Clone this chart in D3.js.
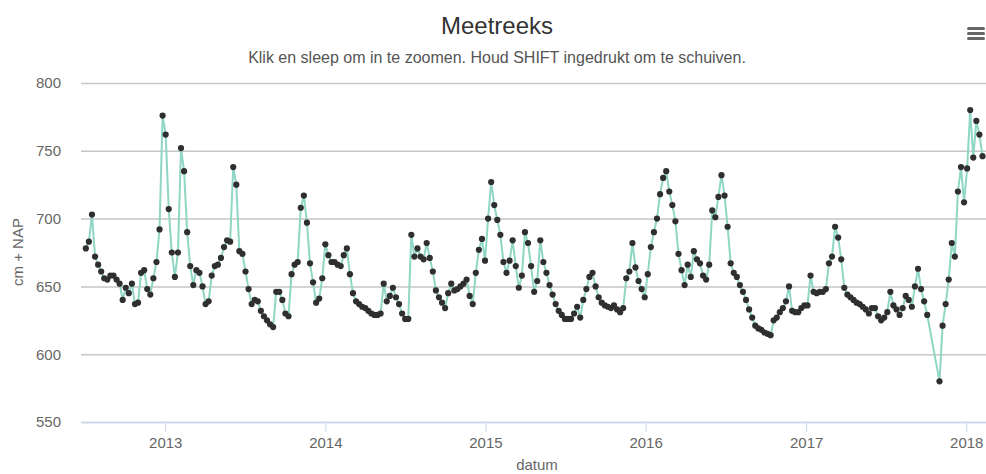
<!DOCTYPE html>
<html>
<head>
<meta charset="utf-8">
<script src="https://cdn.jsdelivr.net/npm/d3@7"></script>
<style>
  body { margin: 0; background: #fff; }
  text { font-family: "Liberation Sans", Arial, sans-serif; }
</style>
</head>
<body>
<script>
'use strict';

// weekly readings (cm + NAP), first one on 2012-07-04; null = no measurement
var startDate = new Date(2012, 6, 4);
var levels = [
  678,683,703,672,666,661,656,655,658,658,
  655,652,640,649,645,652,637,638,660,662,
  648,644,656,668,692,776,762,707,675,657,
  675,752,735,690,665,651,662,660,650,637,
  639,658,665,666,671,679,684,683,738,725,
  676,674,661,648,637,640,639,632,628,625,
  622,620,646,646,640,630,628,659,666,668,
  708,717,697,667,653,638,641,656,681,673,
  668,668,666,665,673,678,659,645,639,637,
  635,634,632,630,629,629,630,652,639,643,
  649,642,637,630,626,626,688,672,678,672,
  670,682,671,661,647,642,638,634,645,652,
  647,648,650,652,655,643,637,660,677,685,
  669,700,727,710,699,688,668,660,669,684,
  665,649,658,690,682,665,646,654,684,668,
  660,651,644,637,632,629,626,626,626,630,
  635,627,640,648,657,660,650,642,638,636,
  635,634,636,633,631,634,656,661,682,664,
  654,648,642,659,679,690,700,718,730,735,
  720,710,698,674,662,651,666,657,676,670,
  667,658,655,666,706,701,716,732,717,694,
  667,660,657,651,646,640,633,627,621,619,
  618,616,615,614,625,627,631,634,639,650,
  632,631,631,634,636,636,658,646,645,646,
  646,648,667,672,694,686,670,649,644,642,
  640,638,637,635,633,630,634,634,628,625,
  627,631,646,636,633,629,634,643,640,635,
  650,663,648,639,629,null,null,null,580,621,
  637,655,682,672,720,738,712,737,780,745,
  772,762,746
];
var yTicks = [550, 600, 650, 700, 750, 800];
var xTickYears = [2013, 2014, 2015, 2016, 2017, 2018];

var width = 986;
var height = 474;

var svg = d3.select("body")
    .append("svg")
    .attr("width", width)
    .attr("height", height);

var data = levels.map(function(v, i) {
    return { date: d3.timeDay.offset(startDate, i * 7), value: v };
}).filter(function(d) { return d.value !== null; });

var x = d3.scaleTime()
    .domain([new Date(2012, 5, 23), new Date(2018, 1, 15)])
    .range([81, 986]);

var y = d3.scaleLinear()
    .domain([550, 800])
    .range([422, 83]);

// title + subtitle
svg.append("text")
    .attr("x", 497).attr("y", 34)
    .attr("text-anchor", "middle")
    .attr("font-size", 24)
    .attr("fill", "#333")
    .text("Meetreeks");

svg.append("text")
    .attr("x", 497).attr("y", 63)
    .attr("text-anchor", "middle")
    .attr("font-size", 16)
    .attr("fill", "#555")
    .text("Klik en sleep om in te zoomen. Houd SHIFT ingedrukt om te schuiven.");

// menu icon
svg.append("g").selectAll("rect")
    .data([0, 1, 2])
    .enter().append("rect")
    .attr("x", 967).attr("width", 18)
    .attr("y", function(d) { return 27 + d * 5; })
    .attr("height", 3).attr("rx", 1.5)
    .attr("fill", "#666");

// y axis with grid
var yAxis = svg.append("g")
    .attr("transform", "translate(81,0)")
    .call(d3.axisLeft(y).tickValues(yTicks).tickSize(-905).tickPadding(20));
yAxis.select(".domain").remove();
yAxis.selectAll(".tick line")
    .attr("stroke", function(d) { return d === 550 ? "#ccd6eb" : "#c6c6c6"; })
    .attr("stroke-width", 1.5);
yAxis.selectAll(".tick text")
    .attr("font-size", 15)
    .attr("fill", "#666");

svg.append("text")
    .attr("transform", "translate(23,252) rotate(-90)")
    .attr("text-anchor", "middle")
    .attr("font-size", 15)
    .attr("fill", "#666")
    .text("cm + NAP");

// x axis
var xAxis = svg.append("g")
    .attr("transform", "translate(0,422)")
    .call(d3.axisBottom(x)
        .tickValues(xTickYears.map(function(yr) { return new Date(yr, 0, 1); }))
        .tickFormat(d3.timeFormat("%Y"))
        .tickSize(10).tickSizeOuter(0).tickPadding(5));
xAxis.select(".domain").attr("stroke", "#ccd6eb").attr("stroke-width", 1.5);
xAxis.selectAll(".tick line").attr("stroke", "#ccd6eb");
xAxis.selectAll(".tick text")
    .attr("font-size", 15)
    .attr("fill", "#666");

svg.append("text")
    .attr("x", 537).attr("y", 470)
    .attr("text-anchor", "middle")
    .attr("font-size", 15)
    .attr("fill", "#666")
    .text("datum");

// series
var line = d3.line()
    .x(function(d) { return x(d.date); })
    .y(function(d) { return y(d.value); });

svg.append("path")
    .datum(data)
    .attr("fill", "none")
    .attr("stroke", "#8fd6c4")
    .attr("stroke-width", 2)
    .attr("d", line);

svg.append("g").selectAll("circle")
    .data(data)
    .enter().append("circle")
    .attr("cx", function(d) { return x(d.date); })
    .attr("cy", function(d) { return y(d.value); })
    .attr("r", 3.1)
    .attr("fill", "#2f2f2f");
</script>
</body>
</html>
